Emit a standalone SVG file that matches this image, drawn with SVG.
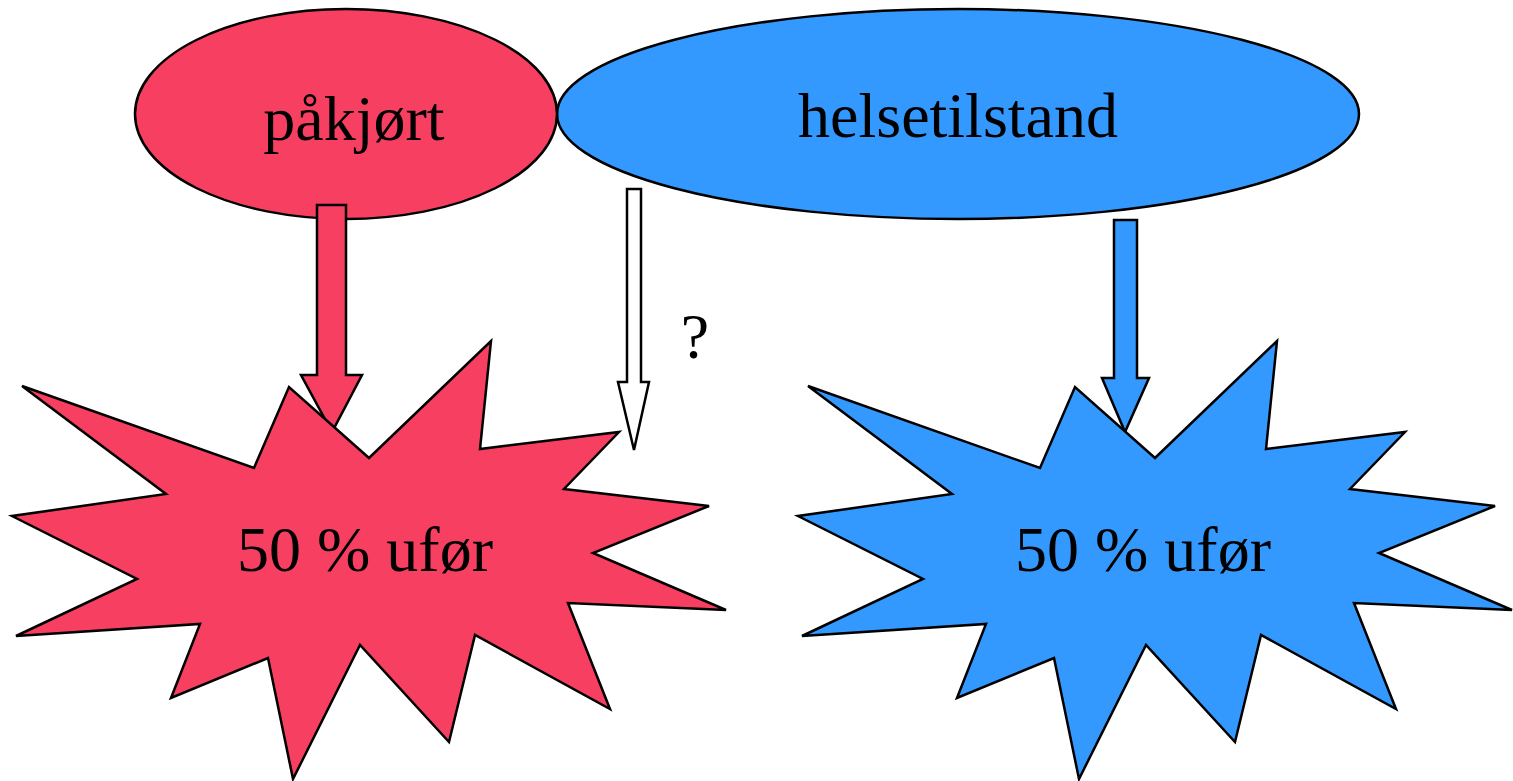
<svg xmlns="http://www.w3.org/2000/svg" width="1513" height="781" viewBox="0 0 1513 781">
<style>
.s{stroke:#000;stroke-width:2.5;stroke-linejoin:miter}
.r{fill:#F73F62}
.b{fill:#3399FF}
.w{fill:#fff}
.t{font-family:"Liberation Serif","Times New Roman",serif;font-size:64px;fill:#000;text-anchor:middle}
</style>
<defs>
<polygon id="star" points="22,386 254,468 289,387 369,458 491,341 480,449 619,432 564,489 709,506 593,553 726,610 568,603 610,709 475,635 449,742 360,645 293,779 268,658 171,698 200,624 16,636 137,579 12,516 166,494"/>
</defs>
<g id="helsetilstand">
<ellipse class="s b" cx="958" cy="114" rx="401" ry="105"/>
<text class="t" x="958" y="137">helsetilstand</text>
</g>
<g id="pakjort">
<ellipse class="s r" cx="346" cy="114" rx="211" ry="105"/>
<text class="t" x="354" y="140">påkjørt</text>
</g>
<g id="connectors">
<polygon class="s r" points="317,205 346,205 346,375 362,375 332,432 301,375 317,375"/>
<polygon class="s w" points="627,189 641,189 641,382 649,382 634,450 618,382 627,382"/>
<polygon class="s b" points="1114,220 1137,220 1137,378 1149,378 1125,432 1102,378 1114,378"/>
<text class="t" x="695" y="358">?</text>
</g>
<g id="ufor1">
<use href="#star" class="s r"/>
<text class="t" x="365" y="571">50 % ufør</text>
</g>
<g id="ufor2">
<use href="#star" class="s b" x="786"/>
<text class="t" x="1143" y="571">50 % ufør</text>
</g>
</svg>
